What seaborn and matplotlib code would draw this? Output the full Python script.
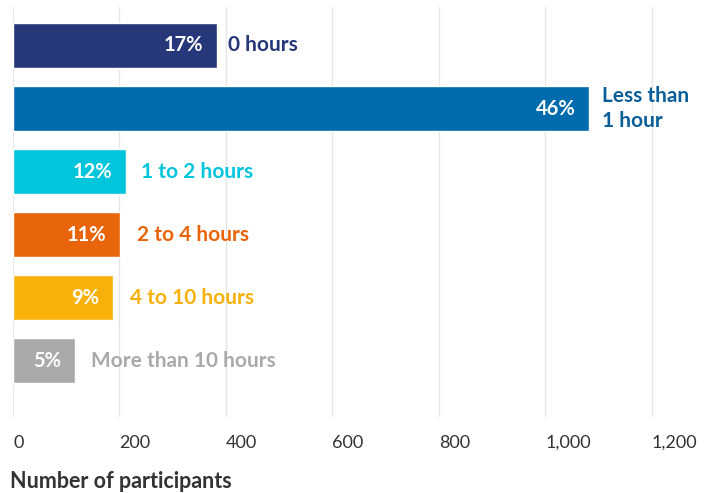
import pandas as pd
import matplotlib.pyplot as plt
import seaborn as sns

categories = ["0 hours", "Less than\n1 hour", "1 to 2 hours", "2 to 4 hours",
              "4 to 10 hours", "More than 10 hours"]
participants = [383, 1083, 212, 201, 188, 117]
percents = ["17%", "46%", "12%", "11%", "9%", "5%"]
bar_colors = ["#26377a", "#006bad", "#00c5db", "#e8650c", "#f7b10a", "#aaaaaa"]
label_colors = ["#26377a", "#0a5f99", "#00c5db", "#e8650c", "#f7b10a", "#aaaaaa"]
x_ticks = [0, 200, 400, 600, 800, 1000, 1200]

df = pd.DataFrame({"category": categories, "participants": participants})

sns.set_style("white")
plt.rcParams["font.family"] = ["Lato", "DejaVu Sans"]

fig = plt.figure(figsize=(7.08, 4.93), dpi=100)
ax = fig.add_axes([13 / 708, 1 - 417 / 493, 1 - 13 / 708, 410 / 493])

sns.barplot(data=df, y="category", x="participants", hue="category",
            palette=bar_colors, orient="h", width=0.71, saturation=1,
            legend=False, ax=ax)

ax.set_xlim(0, 1306)
ax.set_ylim(5.89, -0.61)
ax.set_xticks(x_ticks)
ax.set_xticklabels([f"{t:,}" for t in x_ticks], ha="left")
ax.set_yticks([])
ax.set_xlabel("")
ax.set_ylabel("")
ax.tick_params(axis="x", length=0, pad=13, labelsize=13, labelcolor="#333333")
ax.grid(axis="x", color="#e6e6e6", linewidth=1)
ax.set_axisbelow(True)
for s in ax.spines.values():
    s.set_visible(False)

# the first two labels sit a little closer to their bars
gaps = [8, 9, 11, 12, 12, 11]
for i, (val, pct, cat) in enumerate(zip(participants, percents, categories)):
    ax.annotate(pct, (val, i), xytext=(-10, 0), textcoords="offset points",
                ha="right", va="center", color="white", fontsize=14.5,
                fontweight="bold")
    ax.annotate(cat, (val, i), xytext=(gaps[i], 0), textcoords="offset points",
                ha="left", va="center", color=label_colors[i], fontsize=15,
                fontweight="bold", linespacing=1.3)

fig.text(10 / 708, 1 - 481 / 493, "Number of participants", ha="left",
         va="center", fontsize=15.5, fontweight="bold", color="#333333")

fig.savefig("out.png", dpi=100)
